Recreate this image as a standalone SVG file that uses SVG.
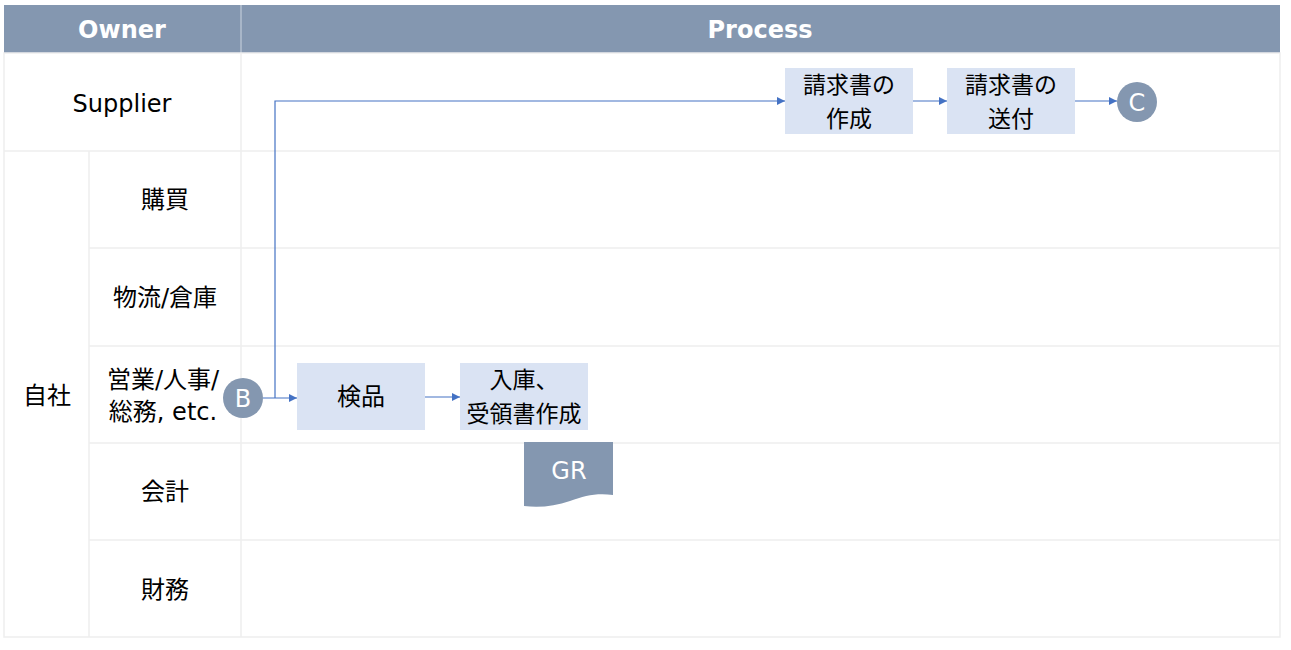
<svg xmlns="http://www.w3.org/2000/svg" width="1291" height="650" viewBox="0 0 1291 650">
<style>
.grid{stroke:#EEEEEE;stroke-width:1.5;fill:none}
.hdr{font-family:"DejaVu Sans","Noto Sans CJK JP",sans-serif;font-weight:bold;font-size:24px;fill:#fff;text-anchor:middle}
.lbl{font-family:"DejaVu Sans","Noto Sans CJK JP",sans-serif;font-size:24px;fill:#000;text-anchor:middle}
.jp{font-family:"Noto Sans CJK JP",sans-serif;font-size:24px;fill:#000;text-anchor:middle}
.jp2{font-family:"Noto Sans CJK JP",sans-serif;font-size:23px;fill:#000;text-anchor:middle}
.box{fill:#DAE3F3}
.circ{fill:#8497B0}
.ctext{font-family:"DejaVu Sans",sans-serif;font-size:24px;fill:#fff;text-anchor:middle}
.conn{stroke:#4472C4;stroke-width:1.2;fill:none;marker-end:url(#arr)}
</style>
<defs>
<marker id="arr" viewBox="0 0 10 10" refX="10" refY="5" markerWidth="8" markerHeight="8" markerUnits="userSpaceOnUse" orient="auto">
<path d="M0,0 L10,5 L0,10 z" fill="#4472C4"/>
</marker>
</defs>
<rect x="0" y="0" width="1291" height="650" fill="#fff"/>
<g id="table">
<rect x="4" y="5" width="1276" height="48" fill="#8497B0"/>
<line x1="241" y1="5" x2="241" y2="53" stroke="#B4C0D0" stroke-width="1.5"/>
<rect x="4" y="53" width="1276" height="584" class="grid"/>
<line x1="241" y1="53" x2="241" y2="637" class="grid"/>
<line x1="89" y1="151" x2="89" y2="637" class="grid"/>
<line x1="4" y1="151" x2="1280" y2="151" class="grid"/>
<line x1="89" y1="248" x2="1280" y2="248" class="grid"/>
<line x1="89" y1="346" x2="1280" y2="346" class="grid"/>
<line x1="89" y1="443" x2="1280" y2="443" class="grid"/>
<line x1="89" y1="540" x2="1280" y2="540" class="grid"/>
<text x="122" y="38" class="hdr">Owner</text>
<text x="760" y="38" class="hdr">Process</text>
<text x="122" y="112" class="lbl">Supplier</text>
<text x="47" y="404" class="jp">自社</text>
<text x="165" y="208" class="jp">購買</text>
<text x="165" y="306" class="lbl">物流/倉庫</text>
<text x="163" y="388" class="lbl">営業/人事/<tspan x="163" dy="32">総務, etc.</tspan></text>
<text x="165" y="500" class="jp">会計</text>
<text x="165" y="598" class="jp">財務</text>
</g>
<g id="connectors">
<path d="M263,398 H297" class="conn"/>
<path d="M275,398 V101 H785" class="conn"/>
<path d="M425,397 H460" class="conn"/>
<path d="M913,101 H947" class="conn"/>
<path d="M1075,101 H1117" class="conn"/>
</g>
<g id="nodeB">
<circle cx="243" cy="398" r="20" class="circ"/>
<text x="243" y="407" class="ctext">B</text>
</g>
<g id="kenpin">
<rect x="297" y="363" width="128" height="67" class="box"/>
<text x="361" y="405" class="jp">検品</text>
</g>
<g id="nyuko">
<rect x="460" y="363" width="128" height="67" class="box"/>
<text x="524" y="388" class="jp2">入庫、<tspan x="524" dy="34">受領書作成</tspan></text>
</g>
<g id="gr">
<path d="M524,442 H613 V495 C595,493 585,496 570,501 C555,506 540,508 524,506 Z" fill="#8497B0"/>
<text x="569" y="479" class="ctext">GR</text>
</g>
<g id="invoiceCreate">
<rect x="785" y="68" width="128" height="66" class="box"/>
<text x="849" y="93" class="jp2">請求書の<tspan x="849" dy="34">作成</tspan></text>
</g>
<g id="invoiceSend">
<rect x="947" y="68" width="128" height="66" class="box"/>
<text x="1011" y="93" class="jp2">請求書の<tspan x="1011" dy="34">送付</tspan></text>
</g>
<g id="nodeC">
<circle cx="1137" cy="102" r="20" class="circ"/>
<text x="1137" y="111" class="ctext">C</text>
</g>
</svg>
